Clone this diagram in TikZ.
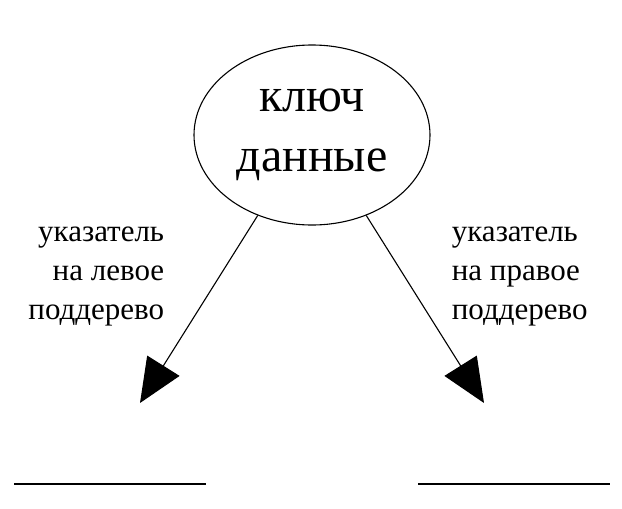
\documentclass[tikz,border=0pt]{standalone}
\usepackage{fontspec}
\setmainfont{Liberation Serif}
\usetikzlibrary{arrows.meta,shapes.geometric,positioning}
\begin{document}
\begin{tikzpicture}[x=1pt, y=-1pt, line width=1.1pt,
  rootnode/.style={draw, ellipse, minimum width=236pt, minimum height=180pt, inner sep=0pt, font=\fontsize{48}{60}\selectfont, align=center},
  ptrlabel/.style={font=\fontsize{31}{39}\selectfont},
  ptr/.style={-{Triangle[length=44pt,width=38pt]}},
  ]
  \useasboundingbox (0,0) rectangle (622,509);

  % root
  \node (root) [rootnode] at (312,135) {ключ\\данные};

  % children
  \coordinate (lchild) at (140,403);
  \coordinate (rchild) at (484,403);
  \draw[ptr] (root.236) -- (lchild);
  \draw[ptr] (root.304) -- (rchild);

  % labels
  \node (llabel) [ptrlabel, align=right, anchor=east] at (168,276) {указатель\\на левое\\поддерево};
  \node (rlabel) [ptrlabel, align=left, anchor=west] at (448,276) {указатель\\на правое\\поддерево};

  % empty subtrees
  \coordinate (lsubA) at (14,484);
  \coordinate (lsubB) at (206,484);
  \coordinate (rsubA) at (418,484);
  \coordinate (rsubB) at (610,484);
  \draw[line width=2pt] (lsubA) -- (lsubB);
  \draw[line width=2pt] (rsubA) -- (rsubB);
\end{tikzpicture}
\end{document}
